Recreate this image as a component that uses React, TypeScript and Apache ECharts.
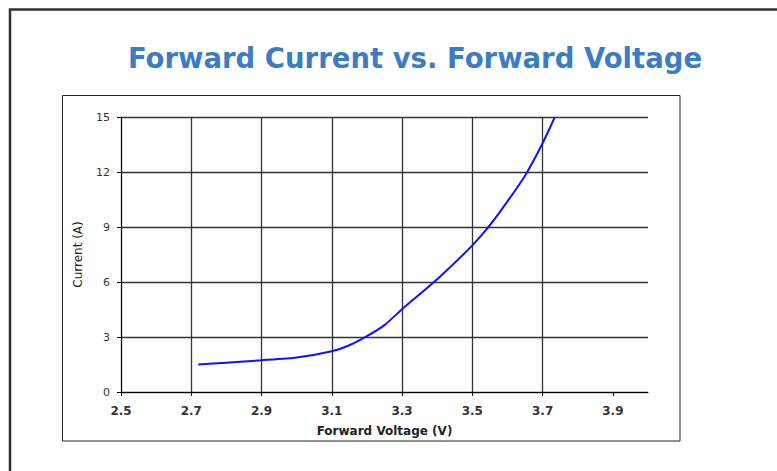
import React, { useEffect, useRef } from "react";
import * as echarts from "echarts";

const titleText = "Forward Current vs. Forward Voltage";
const xAxisName = "Forward Voltage (V)";
const yAxisName = "Current (A)";
const xTickValues = [2.5, 2.7, 2.9, 3.1, 3.3, 3.5, 3.7, 3.9];
const voltage = [2.72, 2.8, 2.9, 3.0, 3.1, 3.15, 3.2, 3.25, 3.3, 3.4, 3.5, 3.55, 3.6, 3.65, 3.7, 3.735];
const current = [1.5, 1.6, 1.73, 1.88, 2.22, 2.55, 3.05, 3.65, 4.52, 6.15, 8.0, 9.1, 10.4, 11.8, 13.57, 15];

export default function App() {
  const ref = useRef<HTMLDivElement>(null);
  useEffect(() => {
    if (!ref.current) return;
    const chart = echarts.init(ref.current, null, { renderer: "svg" });
    const data = voltage.map((v, i) => [v, current[i]]);
    const font = "DejaVu Sans";
    chart.setOption({
      animation: false,
      backgroundColor: "#ffffff",
      grid: { left: 121, right: 129, top: 117, bottom: 79, containLabel: false },
      graphic: [
        {
          type: "rect",
          shape: { x: 10, y: 9.5, width: 900, height: 600 },
          style: { fill: "none", stroke: "#333333", lineWidth: 2.5 },
          silent: true,
        },
        {
          type: "rect",
          shape: { x: 62.5, y: 95.5, width: 617.5, height: 345.5 },
          style: { fill: "none", stroke: "#222222", lineWidth: 1 },
          silent: true,
        },
        {
          type: "text",
          x: 415,
          y: 58,
          style: {
            text: titleText,
            fill: "#3b7dc4",
            font: `bold 27.5px "${font}"`,
            textAlign: "center",
            textVerticalAlign: "middle",
          },
          silent: true,
        },
      ],
      xAxis: {
        type: "value",
        min: 2.5,
        max: 4.0,
        name: xAxisName,
        nameLocation: "middle",
        nameGap: 33,
        nameTextStyle: { fontFamily: font, fontSize: 12, fontWeight: "bold", color: "#222" },
        axisLine: { show: true, lineStyle: { color: "#000", width: 1 } },
        axisTick: { show: true, length: 4, customValues: xTickValues, lineStyle: { color: "#000" } },
        axisLabel: {
          customValues: xTickValues,
          formatter: (v: number) => v.toFixed(1),
          margin: 13,
          fontFamily: font,
          fontSize: 12,
          fontWeight: "bold",
          color: "#333",
        },
        splitLine: { show: true, showMaxLine: false, lineStyle: { color: "#333", width: 1.3 } },
      },
      yAxis: {
        type: "value",
        min: 0,
        max: 15,
        interval: 3,
        name: yAxisName,
        nameLocation: "middle",
        nameGap: 37,
        nameTextStyle: { fontFamily: font, fontSize: 12, color: "#222" },
        axisLine: { show: true, lineStyle: { color: "#000", width: 1 } },
        axisTick: { show: true, length: 4, lineStyle: { color: "#000" } },
        axisLabel: { margin: 11, fontFamily: font, fontSize: 11, color: "#333" },
        splitLine: { show: true, lineStyle: { color: "#333", width: 1.3 } },
      },
      series: [
        {
          type: "line",
          data,
          showSymbol: false,
          smooth: 0.2,
          lineStyle: { color: "#1010ff", width: 2 },
        },
      ],
    });
    return () => chart.dispose();
  }, []);
  return (
    <div
      ref={ref}
      style={{ position: "absolute", left: 0, top: 0, width: 777, height: 471 }}
    />
  );
}
